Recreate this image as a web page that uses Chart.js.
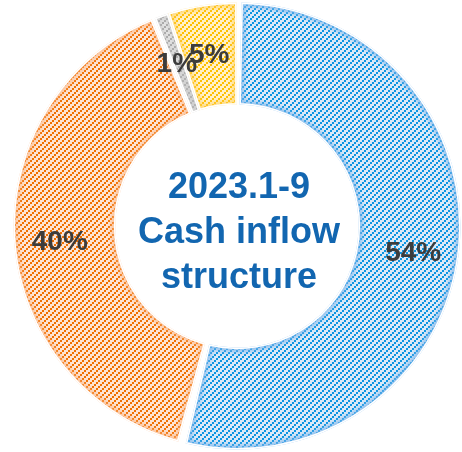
<!DOCTYPE html>
<html>
<head>
<meta charset="utf-8">
<script src="https://cdn.jsdelivr.net/npm/chart.js@4.4.0/dist/chart.umd.min.js"></script>
<style>
  html, body { margin: 0; padding: 0; background: #fff; }
  #wrap { width: 462px; height: 452px; position: relative; }
</style>
</head>
<body>
<div id="wrap"><canvas id="inflowChart"></canvas></div>
<script>
// share of cash inflow, clockwise from 12 o'clock
const categories = ['Source A', 'Source B', 'Source C', 'Source D'];
const shares = [54, 40, 1, 5];
const shareLabels = ['54%', '40%', '1%', '5%'];
const centerLines = ['2023.1-9', 'Cash inflow', 'structure'];

const stripeColors = ['#0b95e2', '#f07000', '#a3a3a3', '#ffbf00'];
const fillColors = ['#dce9f7', '#fde4d4', '#ececec', '#fff1c9'];
const edgeColors = ['rgba(120,180,235,0.75)', 'rgba(250,175,120,0.6)', 'rgba(190,190,190,0.6)', 'rgba(255,205,80,0.6)'];

const GAP = 3;      // white border between slices
const SPACING = 4;  // chart.js arc spacing

// 6px tile with a stepped "/" stripe of 2px dots
const hatch = (bg, fg) => {
    const tile = document.createElement('canvas');
    tile.width = 6;
    tile.height = 6;
    const g = tile.getContext('2d');
    g.fillStyle = bg;
    g.fillRect(0, 0, 6, 6);
    g.fillStyle = fg;
    g.fillRect(0, 4, 2, 2);
    g.fillRect(2, 2, 2, 2);
    g.fillRect(4, 0, 2, 2);
    return g.createPattern(tile, 'repeat');
};

// same outline the arc element fills (spacing pushes radii out and trims the angles)
const arcPath = (ctx, arc) => {
    const s = SPACING / 2;
    const outerR = arc.outerRadius + s;
    const innerR = arc.innerRadius + s;
    const alpha = arc.endAngle - arc.startAngle;
    const av = ((arc.innerRadius - s) + arc.outerRadius) / 2;
    const trim = (alpha - alpha * av / (av + s)) / 2;
    ctx.beginPath();
    ctx.arc(arc.x, arc.y, outerR, arc.startAngle + trim, arc.endAngle - trim);
    ctx.arc(arc.x, arc.y, innerR, arc.endAngle - trim, arc.startAngle + trim, true);
    ctx.closePath();
};

// soft tinted band just inside each slice edge
const softEdges = {
    id: 'softEdges',
    afterDatasetsDraw(chart) {
        const ctx = chart.ctx;
        chart.getDatasetMeta(0).data.forEach((arc, i) => {
            ctx.save();
            arcPath(ctx, arc);
            ctx.clip();
            ctx.filter = 'blur(2px)';
            ctx.lineWidth = GAP + 6;
            ctx.strokeStyle = edgeColors[i];
            ctx.stroke();
            ctx.filter = 'none';
            ctx.lineWidth = GAP;
            ctx.strokeStyle = '#ffffff';
            ctx.stroke();
            ctx.restore();
        });
    }
};

const sliceLabels = {
    id: 'sliceLabels',
    afterDatasetsDraw(chart) {
        const ctx = chart.ctx;
        const arcs = chart.getDatasetMeta(0).data;
        ctx.save();
        ctx.font = 'bold 28px "Liberation Sans", Arial, sans-serif';
        ctx.fillStyle = '#3c3c3c';
        ctx.textAlign = 'center';
        ctx.textBaseline = 'middle';
        arcs.forEach((arc, i) => {
            const mid = (arc.startAngle + arc.endAngle) / 2;
            const r = (arc.innerRadius + arc.outerRadius) / 2 + 7;
            ctx.fillText(shareLabels[i], arc.x + Math.cos(mid) * r, arc.y + Math.sin(mid) * r + 5);
        });
        ctx.restore();
    }
};

const centerTitle = {
    id: 'centerTitle',
    afterDraw(chart) {
        const ctx = chart.ctx;
        const arc = chart.getDatasetMeta(0).data[0];
        ctx.save();
        ctx.font = 'bold 36px "Liberation Sans", Arial, sans-serif';
        ctx.fillStyle = '#1266b0';
        ctx.textAlign = 'center';
        ctx.textBaseline = 'alphabetic';
        const lineGap = 45;
        centerLines.forEach((line, i) => {
            ctx.fillText(line, arc.x + 2, arc.y + 17 + (i - 1) * lineGap);
        });
        ctx.restore();
    }
};

window.addEventListener('load', function () {
    const canvasContext = document.getElementById('inflowChart').getContext('2d');
    new Chart(canvasContext, {
        type: 'doughnut',
        data: {
            labels: categories,
            datasets: [{
                data: shares,
                backgroundColor: fillColors.map((bg, i) => hatch(bg, stripeColors[i])),
                borderColor: '#ffffff',
                borderWidth: GAP,
                spacing: SPACING
            }]
        },
        options: {
            responsive: true,
            maintainAspectRatio: false,
            animation: false,
            cutout: '54%',
            layout: { padding: { left: 12, right: 0, top: 0, bottom: 0 } },
            plugins: {
                legend: { display: false },
                tooltip: { enabled: false }
            }
        },
        plugins: [softEdges, sliceLabels, centerTitle]
    });
}, false);
</script>
</body>
</html>
